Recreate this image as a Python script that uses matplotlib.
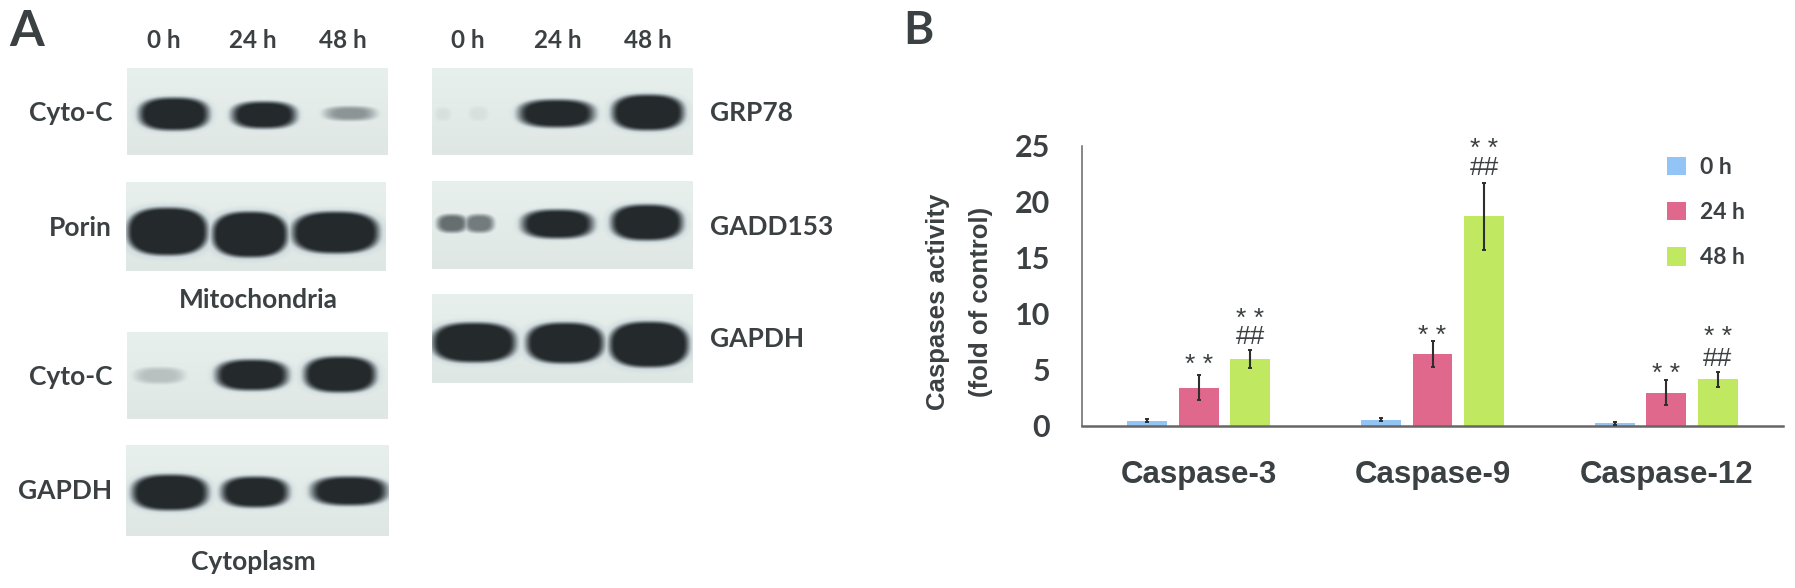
import numpy as np
import matplotlib
matplotlib.use("Agg")
import matplotlib.pyplot as plt

W, H = 1795, 588
INK = "#3b4043"
SANS = "Lato"
ARIAL = "Liberation Sans"

# ---- data: panel B ----
categories = ["Caspase-3", "Caspase-9", "Caspase-12"]
times = ["0 h", "24 h", "48 h"]
v0 = [0.45, 0.55, 0.2]
v24 = [3.4, 6.4, 2.95]
v48 = [5.93, 18.7, 4.15]
e0 = [0.12, 0.12, 0.12]
e24 = [1.12, 1.15, 1.1]
e48 = [0.8, 3.0, 0.65]
stars_24_y = [5.45, 8.05, 4.6]
stars_48_y = [9.55, 24.7, 7.9]
hash_48_y = [7.9, 23.05, 5.95]
hash_48_text = ["##", "##", "##"]
y_ticks = [0, 5, 10, 15, 20, 25]

# ---- data: panel A band densities, one per band ----
d_cyto_mito = [1.0, 1.0, 0.42]
d_porin = [1.0, 1.0, 1.0]
d_cyto_cyt = [0.2, 1.0, 1.0]
d_gapdh_cyt = [1.0, 1.0, 1.0]
d_grp78 = [0.05, 0.05, 1.0, 1.0]
d_gadd = [0.62, 0.55, 1.0, 1.0]
d_gapdh_r = [1.0, 1.0, 1.0]


def fig_axes(x0, y0, x1, y1, **kw):
    return fig.add_axes([x0 / W, 1 - y1 / H, (x1 - x0) / W, (y1 - y0) / H], **kw)


def txt(x, y, s, size=18, ha="center", va="center", family=SANS, weight="bold", **kw):
    fig.text(x / W, 1 - y / H, s, fontsize=size, ha=ha, va=va, family=family,
             weight=weight, color=INK, **kw)


def smooth(t):
    t = np.clip(t, 0, 1)
    return t * t * (3 - 2 * t)


def blot(box, shapes, densities):
    x0, y0, x1, y1 = box
    X, Y = np.meshgrid(np.arange(x0, x1) + 0.5, np.arange(y0, y1) + 0.5)
    bg = np.array([0.875, 0.905, 0.893])
    dark = np.array([0.145, 0.165, 0.175])
    halo_c = np.array([0.79, 0.84, 0.86])
    img = np.ones(X.shape + (3,)) * bg
    img += (0.035 * (1 - (Y - y0) / (y1 - y0)))[..., None]
    alpha = np.zeros(X.shape)
    halo = np.zeros(X.shape)
    for (bx0, by0, bx1, by1), dens in zip(shapes, densities):
        cx, cy = (bx0 + bx1) / 2, (by0 + by1) / 2
        rx, ry = (bx1 - bx0) / 2, (by1 - by0) / 2
        r = (np.abs((X - cx) / rx) ** 2.6 + np.abs((Y - cy) / ry) ** 2.6) ** (1 / 2.6)
        soft = 3.0 / min(rx, ry)
        alpha = np.maximum(alpha, dens * smooth((1 + soft - r) / (2 * soft)))
        halo = np.maximum(halo, dens * smooth((1.35 - r) / 0.4))
    img = img * (1 - halo[..., None]) + halo_c * halo[..., None]
    img = img * (1 - alpha[..., None]) + dark * alpha[..., None]
    a = fig_axes(x0, y0, x1, y1)
    a.imshow(np.clip(img, 0, 1), aspect="auto", interpolation="bilinear")
    a.axis("off")


fig = plt.figure(figsize=(W / 100, H / 100), dpi=100, facecolor="white")

# ---- panel A layout ----
blots = [
    ((127, 68, 388, 155), [(140, 98, 208, 130), (233, 102, 295, 128), (327, 107, 373, 120)], d_cyto_mito),
    ((126, 182, 386, 271), [(128, 208, 207, 255), (213, 212, 287, 257), (293, 212, 378, 253)], d_porin),
    ((127, 332, 388, 419), [(137, 368, 182, 383), (217, 360, 287, 390), (305, 357, 375, 392)], d_cyto_cyt),
    ((126, 445, 388, 536), [(133, 475, 207, 510), (222, 477, 287, 507), (312, 477, 385, 505)], d_gapdh_cyt),
    ((432, 68, 693, 155), [(436, 108, 450, 120), (470, 107, 487, 120), (520, 100, 593, 127), (613, 95, 683, 130)], d_grp78),
    ((432, 181, 693, 269), [(438, 215, 466, 232), (466, 215, 493, 232), (523, 210, 592, 238), (612, 205, 682, 240)], d_gadd),
    ((432, 294, 693, 383), [(433, 323, 515, 362), (527, 323, 603, 363), (610, 322, 688, 367)], d_gapdh_r),
]
for box, shapes, dens in blots:
    blot(box, shapes, dens)

txt(27, 31, "A", size=36)
txt(918, 31, "B", size=33)
for x, t in zip([164, 253, 343], times):
    txt(x, 41, t, size=17.5)
for x, t in zip([468, 558, 648], times):
    txt(x, 41, t, size=17.5)
for y, t in zip([113, 228, 377, 491], ["Cyto-C", "Porin", "Cyto-C", "GAPDH"]):
    txt(112, y, t, size=19, ha="right")
for y, t in zip([113, 227, 339], ["GRP78", "GADD153", "GAPDH"]):
    txt(710, y, t, size=19, ha="left")
txt(258, 300, "Mitochondria", size=19)
txt(253, 562, "Cytoplasm", size=19)

# ---- panel B ----
ax = fig_axes(1082, 146, 1783, 425.7)
ax.patch.set_alpha(0)
series = [v0, v24, v48]
errs = [e0, e24, e48]
colors = ["#92c5f5", "#e0688c", "#c0e860"]
centers = np.arange(len(categories)) + 0.5
off = 0.2205
for k, (vals, err, c, t) in enumerate(zip(series, errs, colors, times)):
    x = centers + (k - 1) * off
    ax.bar(x, vals, width=0.171, color=c, label=t, zorder=2)
    ax.errorbar(x, vals, yerr=err, fmt="none", ecolor="#2e2e2e", elinewidth=1.5,
                capsize=1.6, capthick=1.4, zorder=3)

STAR = dict(ha="center", va="center", family=ARIAL, color=INK, fontsize=19, zorder=4)
for xc, ys, ysh, ysh2, h in zip(centers, stars_24_y, stars_48_y, hash_48_y, hash_48_text):
    ax.text(xc, ys, "* *", clip_on=False, **STAR)
    ax.text(xc + off, ysh, "* *", clip_on=False, **STAR)
    ax.text(xc + off, ysh2, h, clip_on=False, **STAR)

ax.set_xlim(0, 3)
ax.set_ylim(0, 25)
ax.set_yticks(y_ticks)
ax.set_xticks(centers)
ax.set_xticklabels(categories, family=ARIAL, weight="bold", fontsize=22.5, color=INK)
ax.tick_params(axis="x", length=0, pad=25)
ax.tick_params(axis="y", length=0, pad=23)
for lab in ax.get_yticklabels():
    lab.set(family=SANS, weight="bold", fontsize=22, color=INK)
for s in ["top", "right"]:
    ax.spines[s].set_visible(False)
ax.spines["left"].set_color("#666666")
ax.spines["left"].set_linewidth(1.1)
ax.spines["bottom"].set_color("#666666")
ax.spines["bottom"].set_linewidth(1.8)

h, l = ax.get_legend_handles_labels()
leg = ax.legend(h, l, loc="upper left", bbox_to_anchor=((1667 - 1082) / 701, (425.7 - 157) / 279.7),
                frameon=False, borderaxespad=0, borderpad=0, handlelength=0.85, handleheight=0.85,
                handletextpad=0.6, labelspacing=1.05,
                prop={"family": SANS, "weight": "bold", "size": 16.5})
for t in leg.get_texts():
    t.set_color(INK)

txt(938, 302, "Caspases activity", size=18.5, family=ARIAL, rotation=90)
txt(981, 302, "(fold of control)", size=18.5, family=ARIAL, rotation=90)

fig.savefig("out.png", dpi=100, facecolor="white")
